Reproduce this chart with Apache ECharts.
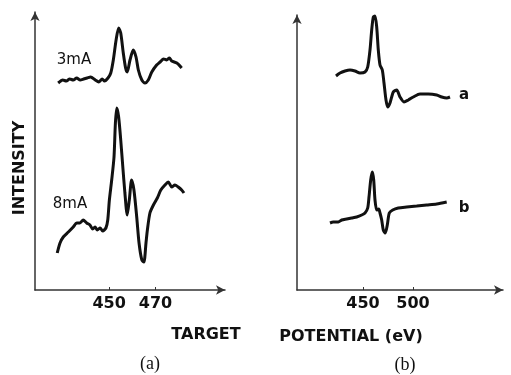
<!DOCTYPE html>
<html>
<head>
<meta charset="utf-8">
<script src="https://cdn.jsdelivr.net/npm/echarts@6/dist/echarts.min.js"></script>
<style>
  html, body { margin: 0; padding: 0; background: #fff; }
  #chart { width: 511px; height: 375px; }
</style>
</head>
<body>
<div id="chart"></div>
<script>
// panel (a): target current curves, x = eV, y = arbitrary intensity
const ev3mA = [428, 430, 431.5, 433, 434.5, 436, 437.5, 439, 440.5, 442, 444, 445.5, 447, 448, 449.5, 450.7, 451.8, 453, 454.1, 455, 456.1, 457.1, 457.8, 459, 460.4, 461.6, 462.6, 464.1, 465.5, 466.9, 468.4, 470.5, 472, 473.5, 474.8, 476, 477, 479.2, 481.3]
const int3mA = [207, 210, 209, 211, 210, 212, 210, 211, 212, 213, 210, 208, 211, 209, 212, 217, 230, 250, 262, 257, 237, 222, 218, 230, 240, 233, 220, 210, 207, 210, 218, 225, 228, 231, 230, 232, 229, 227, 222]
const ev8mA = [427.6, 428.8, 430.2, 432.4, 434.5, 436, 437.4, 438.8, 440.3, 441.7, 442.9, 443.9, 444.9, 446.1, 447.2, 448.6, 449.4, 450.1, 451.1, 452.1, 452.7, 453.3, 454.1, 455, 455.9, 456.8, 457.8, 458.7, 459.7, 460.7, 461.9, 462.9, 464.1, 465, 465.9, 466.5, 467.6, 469.1, 470.8, 472.3, 474.1, 475.5, 477, 478.4, 479.8, 481.3, 482.3]
const int8mA = [37, 47, 53, 58, 63, 67, 67, 70, 67, 65, 61, 63, 60, 62, 59, 62, 70, 90, 110, 133, 167, 182, 173, 150, 123, 97, 75, 90, 110, 100, 73, 47, 30, 28, 47, 60, 77, 85, 92, 100, 105, 108, 103, 105, 103, 100, 97]

// panel (b): curves a and b
const evA = [423, 427, 432, 437, 442, 447, 452, 454.7, 457, 458.7, 460.3, 462, 463.7, 465.3, 467, 469.3, 471, 473, 474.7, 477, 480.3, 483.7, 487, 491, 495.3, 500.3, 507, 515.3, 523.7, 528.7, 533.7, 537]
const intA = [214, 217, 219, 220, 219, 217, 218, 223, 240, 260, 273, 274, 263, 240, 225, 220, 207, 190, 183, 187, 198, 200, 193, 188, 190, 193, 196, 196, 195, 193, 192, 193]
const evB = [417, 420.3, 425.3, 428.7, 433.7, 438.7, 443.7, 448.7, 452, 454.7, 456, 457.7, 459.3, 460.7, 462, 463.7, 465.7, 467, 468.7, 470.3, 472.3, 474.3, 476.3, 479.7, 485.3, 493.7, 503.7, 513.7, 523.7, 533.7]
const intB = [67, 68, 68, 70, 71, 72, 73, 75, 77, 82, 93, 110, 118, 110, 90, 80, 81, 77, 70, 60, 57, 65, 77, 80, 82, 83, 84, 85, 86, 88]

const ticksA = [450, 470]
const ticksB = [450, 500]

const ink = '#111'
const axisInk = '#333'
const sans = 'DejaVu Sans'

const zip = (xs, ys) => xs.map((x, i) => [x, ys[i]])

const chart = echarts.init(document.getElementById('chart'))

const xAxisBase = (min, max, ticks, gridIndex) => ({
  type: 'value',
  gridIndex,
  min,
  max,
  axisLine: { show: true, symbol: ['none', 'arrow'], symbolSize: [7, 9], lineStyle: { color: axisInk, width: 1.5 } },
  axisTick: { show: true, inside: true, length: 3, customValues: ticks, lineStyle: { color: axisInk } },
  axisLabel: { customValues: ticks, margin: 6, fontSize: 16, fontWeight: 'bold', fontFamily: sans, color: ink },
  splitLine: { show: false }
})

const yAxisBase = (max, gridIndex) => ({
  type: 'value',
  gridIndex,
  min: 0,
  max,
  axisLine: { show: true, symbol: ['none', 'arrow'], symbolSize: [7, 9], lineStyle: { color: axisInk, width: 1.5 } },
  axisTick: { show: false },
  axisLabel: { show: false },
  splitLine: { show: false }
})

const curve = (data, xi) => ({
  type: 'line',
  xAxisIndex: xi,
  yAxisIndex: xi,
  data,
  showSymbol: false,
  smooth: 0.25,
  lineStyle: { color: ink, width: 3 },
  animation: false
})

const label = (text, x, y, size, weight, extra) => Object.assign({
  type: 'text',
  x, y,
  style: {
    text, fill: ink, align: 'center', verticalAlign: 'middle',
    font: `${weight} ${size}px "${sans}"`
  }
}, extra || {})

chart.setOption({
  backgroundColor: '#fff',
  animation: false,
  grid: [
    { left: 35, top: 12, width: 190, height: 278 },
    { left: 297, top: 15, width: 206, height: 275 }
  ],
  xAxis: [xAxisBase(418, 500, ticksA, 0), xAxisBase(384, 590, ticksB, 1)],
  yAxis: [yAxisBase(278, 0), yAxisBase(275, 1)],
  series: [
    curve(zip(ev3mA, int3mA), 0),
    curve(zip(ev8mA, int8mA), 0),
    curve(zip(evA, intA), 1),
    curve(zip(evB, intB), 1)
  ],
  graphic: [
    label('INTENSITY', 20, 168, 16, 'bold', { rotation: Math.PI / 2 }),
    label('3mA', 74, 60, 15, 'normal'),
    label('8mA', 70, 204, 15, 'normal'),
    label('a', 464, 95, 15, 'bold'),
    label('b', 464, 208, 15, 'bold'),
    label('TARGET', 206, 335, 16, 'bold'),
    label('POTENTIAL (eV)', 351, 337, 16, 'bold'),
    {
      type: 'text', x: 150, y: 364,
      style: { text: '(a)', fill: ink, align: 'center', verticalAlign: 'middle', font: '18px "Liberation Serif"' }
    },
    {
      type: 'text', x: 405, y: 365,
      style: { text: '(b)', fill: ink, align: 'center', verticalAlign: 'middle', font: '18px "Liberation Serif"' }
    }
  ]
})

window.addEventListener('resize', () => chart.resize())
</script>
</body>
</html>
